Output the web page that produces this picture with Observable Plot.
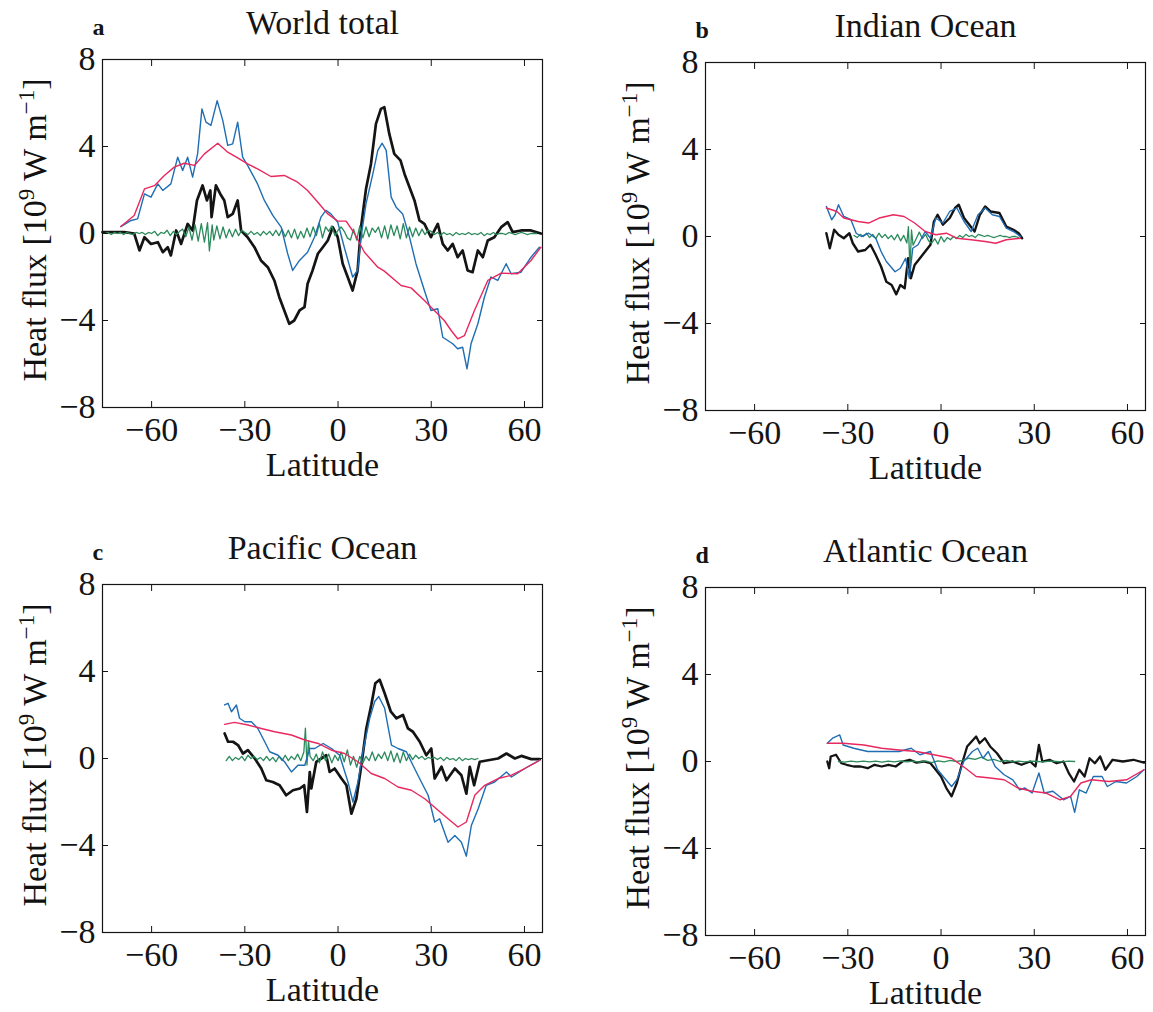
<!DOCTYPE html>
<html><head><meta charset="utf-8">
<script src="https://cdn.jsdelivr.net/npm/d3@7"></script>
<script src="https://cdn.jsdelivr.net/npm/@observablehq/plot@0.6"></script>
<style>
html,body{margin:0;padding:0;background:#fff;overflow:hidden;}
#wrap{position:relative;width:1153px;height:1012px;background:#fff;}
.panel{position:absolute;}
.ylab{position:absolute;white-space:nowrap;font-family:"Liberation Serif","Times New Roman",serif;font-size:34px;line-height:34px;transform-origin:0 0;transform:rotate(-90deg) translate(-50%,-100%);color:#111;}
.ylab sup{font-size:0.68em;vertical-align:0;position:relative;top:-0.52em;line-height:0;}
</style></head><body><div id="wrap"></div>
<script>
// ---------- axes ----------
const xTicks = [-60, -30, 0, 30, 60];
const yTicks = [-8, -4, 0, 4, 8];
const xDomain = [-75.8, 65.8];
const yDomain = [-8, 8];

// ---------- panel texts ----------
const titles = ["World total", "Indian Ocean", "Pacific Ocean", "Atlantic Ocean"];
const letters = ["a", "b", "c", "d"];

// ---------- a: World total ----------
const worldRed = [[-69.9,0.32],[-65.6,0.83],[-62.3,2.05],[-59.1,2.2],[-55.9,2.67],[-52.7,3.05],[-49.5,3.23],[-46.2,3.13],[-43.0,3.66],[-38.7,4.15],[-35.5,3.74],[-32.3,3.48],[-29.1,3.2],[-25.9,2.97],[-21.6,2.62],[-17.3,2.67],[-13.0,2.36],[-9.8,1.98],[-6.5,1.44],[-3.3,0.9],[-0.1,0.57],[2.6,0.57],[5.3,0],[8.5,-0.86],[12.8,-1.55],[14.9,-1.73],[20.3,-2.39],[23.5,-2.5],[27.8,-3.08],[31.0,-3.54],[34.2,-4.0],[36.4,-4.46],[38.5,-4.84],[40.7,-4.69],[43.9,-3.54],[48.2,-2.16],[52.5,-1.82],[57.8,-1.85],[62.1,-1.24],[65.3,-0.63]];
const worldBlue = [[-69.9,0.32],[-66.6,0.6],[-64.5,0.67],[-62.3,1.82],[-60.2,1.67],[-58.0,2.28],[-56.4,1.98],[-53.8,2.28],[-51.6,3.51],[-50.0,2.9],[-48.4,3.51],[-46.8,2.59],[-45.2,3.66],[-43.8,5.73],[-42.5,5.12],[-40.9,4.97],[-38.9,6.11],[-37.1,5.2],[-35.5,4.05],[-33.9,4.12],[-32.3,5.12],[-30.7,3.51],[-29.1,3.13],[-25.9,2.28],[-23.7,1.52],[-21.0,0.83],[-18.3,0.29],[-16.2,-0.93],[-14.6,-1.7],[-12.4,-1.24],[-9.8,-0.86],[-7.6,-0.17],[-5.5,0.75],[-3.9,1.06],[-2.3,0.9],[-0.1,0.52],[2.0,-0.63],[4.7,-2.0],[6.3,-1.7],[7.4,-0.17],[9.0,1.36],[11.2,2.74],[12.8,3.82],[14.2,4.15],[15.5,3.82],[17.1,1.67],[18.7,1.21],[20.8,0.9],[23.0,-0.17],[25.1,-1.4],[27.8,-2.62],[29.9,-3.54],[32.1,-3.46],[33.7,-4.77],[35.3,-4.92],[36.9,-5.07],[38.5,-5.3],[40.1,-5.23],[41.5,-6.22],[42.8,-5.07],[45.0,-4.15],[47.1,-2.93],[49.2,-2.0],[51.4,-2.16],[54.1,-1.39],[55.7,-1.85],[58.9,-1.78],[62.1,-1.09],[64.8,-0.63]];
const worldBlack = [[-75.8,0.06],[-68.8,0.06],[-65.6,0],[-63.9,-0.78],[-62.3,-0.17],[-60.2,-0.48],[-58.0,-0.4],[-56.4,-0.86],[-54.8,-0.63],[-53.8,-1.01],[-52.1,0.14],[-50.5,-0.48],[-48.4,0.44],[-46.8,0.14],[-45.4,1.52],[-43.6,2.21],[-42.2,1.52],[-41.1,1.98],[-40.7,0.75],[-39.3,2.21],[-37.9,1.82],[-36.6,1.52],[-35.5,0.75],[-33.9,0.9],[-32.3,1.52],[-31.2,0.14],[-29.1,-0.17],[-26.9,-0.63],[-24.8,-1.24],[-22.6,-1.55],[-20.5,-2.16],[-18.9,-2.93],[-17.3,-3.54],[-15.7,-4.15],[-14.1,-4.0],[-12.4,-3.54],[-10.8,-3.39],[-9.8,-2.31],[-8.2,-1.7],[-6.5,-0.93],[-4.9,-0.63],[-3.3,-0.32],[-1.7,0.29],[-0.1,-0.17],[1.5,-1.39],[3.1,-2.0],[4.7,-2.62],[6.3,-1.7],[7.4,0.29],[9.0,2.05],[10.6,3.2],[12.2,5.04],[13.8,5.73],[14.9,5.81],[16.5,4.58],[18.1,3.66],[20.1,3.36],[21.4,2.74],[23.0,2.13],[24.6,1.52],[26.2,0.6],[27.8,0.44],[29.9,-0.17],[32.1,0.44],[33.7,-0.48],[35.3,-0.78],[36.9,-0.48],[38.5,-1.09],[40.1,-0.78],[41.7,-1.7],[43.3,-1.78],[45.0,-0.78],[46.6,-1.09],[48.2,-0.32],[50.3,-0.17],[52.5,0.29],[54.6,0.52],[56.2,0.06],[58.9,0.14],[62.1,0.14],[65.3,0]];
const worldGreen = [[-75,0],[-74,0.05],[-73,-0.05],[-72,0.05],[-71,0],[-70,0.05],[-69,-0.05],[-68,0.05],[-67,0],[-66,-0.05],[-65,0.05],[-64,0],[-63,0.05],[-62,-0.05],[-61,0.05],[-60,0],[-59,0.1],[-58,-0.1],[-57,0.05],[-56,0],[-55,0.15],[-54,-0.1],[-53,0.1],[-52,-0.05],[-51,0.1],
[-50,0.2],[-49,-0.15],[-48,0.3],[-47,-0.3],[-46,0.4],[-45,-0.35],[-44,0.45],[-43,-0.4],[-42,0.5],[-41.4,-0.8],[-40.5,0.4],[-40,-0.3],[-39,0.35],[-38,-0.25],[-37,0.3],[-36,-0.2],[-35,0.2],[-34,-0.15],[-33,0.2],[-32,-0.1],[-31,0.15],
[-30,0.05],[-29,-0.05],[-28,0.1],[-27,-0.05],[-26,0.05],[-25,-0.1],[-24,0.1],[-23,-0.05],[-22,0.1],[-21,-0.1],[-20,0.15],[-19,-0.1],[-18,0.2],[-17,-0.15],[-16,0.15],[-15,-0.2],[-14,0.2],[-13,-0.25],[-12,0.1],[-11,-0.2],
[-10,0.25],[-9,-0.15],[-8,0.3],[-7,-0.1],[-6,0.45],[-5,-0.2],[-4,0.3],[-3,0.1],[-2,0.35],[-1,-0.1],[0,0.15],[1,0.3],[2,0.1],[3,-0.2],[4,-0.3],
[5,0.2],[6,-0.3],[7,0.35],[8,-0.2],[9,0.3],[10,-0.15],[11,0.25],[12,0.05],[13,0.3],[14,-0.2],[15,0.35],[16,-0.25],[17,0.4],[18,-0.1],[19,0.35],[20,-0.25],[21,0.45],[22,-0.2],[23,0.3],[24,-0.15],[25,0.25],[26,-0.1],[27,0.2],[28,-0.05],[29,0.15],
[30,0.1],[31,-0.05],[32,0.05],[33,-0.1],[34,0.05],[35,-0.05],[36,0],[37,-0.1],[38,0.05],[39,-0.05],[40,0],[41,-0.05],[42,0.05],[43,-0.05],[44,0],[45,-0.05],[46,0.05],[47,-0.1],[48,0],[49,-0.05],[50,0.05],[51,-0.05],[52,0],[53,0],[54,-0.05],[55,0.05],[56,0],[57,-0.05],[58,0],[59,0.05],[60,0],[61,-0.05],[62,0],[63,0],[64,0]];

// ---------- b: Indian Ocean ----------
const indianRed = [[-36.9,1.31],[-33.5,1.15],[-31.3,0.85],[-26.7,0.69],[-23.3,0.62],[-19.9,0.85],[-15.3,1.0],[-11.9,0.92],[-8.5,0.62],[-5.1,0.23],[-1.7,0.08],[1.7,0.15],[5.1,-0.08],[9.7,-0.15],[14.2,-0.23],[17.6,-0.31],[21.0,-0.15],[25.6,-0.08]];
const indianBlue = [[-36.9,1.38],[-35.2,0.77],[-34.1,1.0],[-33.0,1.46],[-31.3,0.92],[-29.0,0.77],[-27.3,0.15],[-25.6,0],[-23.3,0.15],[-21.0,-0.08],[-19.3,-0.69],[-17.6,-1.15],[-14.8,-1.62],[-13.1,-1.46],[-11.4,-1.0],[-10.2,-1.92],[-9.1,-0.54],[-7.4,-0.38],[-5.1,0.23],[-3.4,-0.08],[-1.7,0.85],[0.6,0.62],[2.8,1.15],[5.1,1.31],[7.4,0.69],[9.7,0.23],[11.9,1.0],[14.2,1.31],[16.5,1.0],[18.8,0.92],[21.0,0.38],[23.3,0.23],[25.6,0]];
const indianBlack = [[-36.9,0.15],[-35.8,-0.54],[-34.4,0.31],[-33.0,0.08],[-31.3,-0.08],[-29.5,0.15],[-28.4,-0.31],[-26.7,-0.69],[-24.4,-0.62],[-22.7,-0.38],[-21.0,-0.85],[-19.3,-1.38],[-17.6,-2.08],[-15.9,-2.23],[-14.4,-2.66],[-13.1,-2.23],[-11.7,-2.38],[-10.6,-1.0],[-9.7,-1.92],[-8.5,-1.31],[-6.8,-1.0],[-5.1,-0.69],[-3.4,-0.38],[-2.3,0.69],[-1.1,1.0],[0.6,0.54],[2.8,0.85],[4.5,1.31],[5.7,1.46],[7.4,0.85],[9.1,0.54],[10.8,0.23],[12.5,1.0],[14.2,1.38],[15.9,1.15],[18.8,1.08],[21.0,0.46],[23.3,0.31],[25.0,0.15],[26.1,-0.08]];
const indianGreen = [[-28,0.05],[-27,-0.05],[-26,0.1],[-25,0],[-24,0.15],[-23,-0.05],[-22,0.1],[-21,-0.1],[-20,0.15],[-19,-0.05],[-18,0.1],[-17,-0.1],[-16,0.05],[-15,-0.15],[-14,0.1],[-13,-0.2],[-12,0.05],[-11,-0.3],[-10.5,0.45],[-10,-1.5],[-9.5,0.3],[-9,-0.4],[-8,-0.1],[-7,0.2],[-6,-0.1],[-5,0.1],[-4,-0.2],[-3,-0.3],[-2,-0.1],[-1,-0.35],[0,0],[1,-0.25],[2,-0.05],[3,-0.15],[4,0],[5,-0.1],[6,0.05],[7,-0.05],[8,0.1],[9,0],[10,0.05],[11,-0.05],[12,0.1],[13,0.05],[14,0],[15,0.05],[16,0],[17,-0.05],[18,0],[19,0.05],[20,0],[21,0],[22,-0.05],[23,0],[24,0],[25,-0.05]];

// ---------- c: Pacific Ocean ----------
const pacificRed = [[-36.5,1.57],[-33.3,1.66],[-29.0,1.54],[-24.7,1.38],[-20.4,1.23],[-15.0,1.08],[-10.7,0.85],[-6.4,0.69],[-2.1,0.38],[2.1,0.23],[6.4,-0.15],[10.7,-0.69],[15.0,-0.92],[19.3,-1.31],[23.6,-1.46],[27.9,-1.85],[32.2,-2.38],[35.4,-2.77],[38.6,-3.15],[41.3,-2.92],[44.0,-1.69],[47.2,-1.23],[51.5,-0.92],[55.8,-0.77],[60.1,-0.46],[64.9,-0.08]];
const pacificBlue = [[-36.5,2.46],[-35.4,2.54],[-34.3,2.15],[-32.7,2.46],[-31.7,1.85],[-30.0,1.69],[-27.9,1.69],[-25.8,1.38],[-23.6,0.77],[-22.0,0.31],[-19.3,0.15],[-17.2,-0.15],[-15.0,-0.62],[-12.9,-0.31],[-10.7,-0.31],[-9.1,0.46],[-7.5,0.46],[-4.8,0.69],[-2.1,0.46],[0.5,0.15],[3.2,-1.08],[4.8,-2.0],[6.4,-1.08],[8.0,0.31],[10.2,1.85],[11.8,2.62],[13.1,2.85],[15.0,2.31],[17.2,0.62],[19.3,0.46],[22.0,0.31],[24.1,-0.31],[26.8,-1.08],[29.0,-1.69],[31.1,-2.92],[32.7,-2.77],[35.4,-3.85],[37.6,-3.54],[39.7,-3.85],[41.3,-4.49],[42.9,-3.08],[45.1,-2.31],[47.7,-1.23],[50.4,-1.08],[54.2,-0.62],[55.8,-0.85],[60.1,-0.46],[64.9,-0.08]];
const pacificBlack = [[-36.5,1.15],[-35.4,0.77],[-33.8,0.77],[-32.2,0.62],[-30.6,0.23],[-29.0,0.38],[-26.8,0],[-24.7,-0.46],[-23.1,-1.0],[-21.0,-1.08],[-18.8,-1.23],[-16.7,-1.69],[-14.5,-1.46],[-12.3,-1.38],[-10.9,-1.23],[-10.0,-2.46],[-9.1,-0.62],[-8.6,-1.38],[-7.0,-0.15],[-5.4,0],[-3.8,0.15],[-2.7,-0.62],[-1.1,-0.46],[1.1,-0.92],[2.7,-1.23],[4.3,-2.54],[5.9,-1.85],[7.5,-0.31],[9.1,1.38],[10.7,2.46],[12.0,3.46],[13.4,3.62],[15.0,3.0],[17.0,2.15],[18.8,1.85],[20.9,2.0],[22.5,1.38],[24.1,1.23],[26.3,0.77],[28.4,0.15],[30.0,0.46],[31.1,-0.92],[33.3,-0.38],[34.9,-1.0],[37.6,-0.46],[39.7,-0.77],[41.3,-1.62],[42.4,-0.38],[43.8,-1.23],[45.6,-0.15],[48.3,-0.08],[51.5,0],[54.2,0.23],[56.9,0],[59.0,0.12],[62.2,-0.03],[64.9,-0.03]];
const pacificGreen = [[-36,-0.1],[-35,0.1],[-34,-0.1],[-33,0.05],[-32,-0.05],[-31,0.1],[-30,-0.1],[-29,0.15],[-28,0],[-27,0.1],[-26,-0.05],[-25,0.05],[-24,-0.1],[-23,0.1],[-22,-0.1],[-21,0.05],[-20,-0.15],[-19,0.1],[-18,-0.1],[-17,0.15],[-16,-0.1],[-15,0.1],[-14,-0.05],[-13,0.2],[-12,-0.1],[-11,0.3],[-10.5,1.4],[-10,-0.3],[-9.5,0.8],[-9,0.1],[-8,-0.1],[-7,0.2],[-6,-0.2],[-5,0.3],[-4,-0.1],[-3,0.2],[-2,-0.2],[-1,0.15],[0,-0.1],[1,0.3],[2,-0.15],[3,0.4],[4,-0.3],[5,0.1],[6,-0.4],[7,0.1],[8,-0.2],[9,0.1],[10,-0.1],[11,0.3],[12,-0.1],[13,0.2],[14,0],[15,0.3],[16,-0.1],[17,0.35],[18,-0.15],[19,0.25],[20,-0.2],[21,0.3],[22,-0.1],[23,0.2],[24,-0.05],[25,0.15],[26,0],[27,0.1],[28,-0.05],[29,0.05],[30,0],[31,0.05],[32,-0.05],[33,0.05],[34,-0.1],[35,0.05],[36,-0.05],[37,0],[38,-0.1],[39,0.05],[40,-0.1],[41,0],[42,-0.05],[43,0],[44,-0.05],[45,0]];

// ---------- d: Atlantic Ocean ----------
const atlanticRed = [[-36.6,0.84],[-31.5,0.84],[-24.8,0.76],[-19.1,0.61],[-13.5,0.53],[-7.9,0.46],[-2.3,0.31],[3.4,0.15],[7.9,-0.31],[11.3,-0.69],[15.8,-0.76],[20.3,-0.84],[24.8,-1.22],[29.3,-1.37],[33.8,-1.45],[38.3,-1.76],[41.7,-1.6],[45.0,-0.99],[48.4,-0.84],[54.0,-0.92],[59.7,-0.84],[65.3,-0.38]];
const atlanticBlue = [[-36.6,0.84],[-34.9,1.07],[-32.6,1.22],[-31.5,0.76],[-28.1,0.61],[-23.6,0.46],[-19.1,0.46],[-13.5,0.46],[-9.6,0.61],[-6.8,0.31],[-3.4,0.46],[-1.1,-0.38],[1.1,-0.76],[3.4,-1.15],[5.1,-0.84],[7.3,0],[10.1,0.46],[11.8,0.61],[13.5,0.15],[15.2,0.46],[17.4,-0.23],[20.3,-0.61],[23.1,-0.84],[25.3,-1.3],[27.0,-1.22],[29.3,-1.45],[31.5,-0.53],[33.2,-1.45],[36.0,-1.37],[39.4,-1.76],[41.7,-1.6],[43.0,-2.34],[44.5,-1.3],[46.7,-1.45],[49.0,-0.69],[51.8,-0.69],[53.5,-1.15],[56.3,-0.92],[59.7,-0.99],[63.0,-0.69],[65.3,-0.38]];
const atlanticBlack = [[-36.6,0],[-36.0,-0.31],[-35.5,0.23],[-33.8,0.31],[-32.1,-0.08],[-30.4,-0.15],[-28.1,-0.23],[-25.9,-0.23],[-23.6,-0.31],[-21.4,-0.15],[-19.1,-0.23],[-16.9,-0.15],[-14.6,-0.23],[-12.4,0],[-10.1,0.08],[-7.9,-0.05],[-5.6,0],[-3.4,-0.08],[-1.7,-0.38],[0,-0.69],[1.7,-1.22],[3.4,-1.6],[5.1,-0.99],[6.8,-0.08],[8.4,0.69],[11.3,1.15],[12.4,0.84],[14.1,1.07],[15.8,0.69],[18.0,0.38],[20.3,-0.08],[23.1,0],[25.9,-0.15],[28.7,0],[30.4,-0.23],[31.5,0.76],[32.6,0],[34.9,0.08],[37.2,-0.08],[39.4,0],[41.1,-0.53],[42.8,-0.92],[44.5,-0.38],[46.2,-0.69],[47.8,0.15],[49.5,-0.08],[51.2,0.23],[52.9,-0.38],[55.2,0.08],[58.5,0],[61.9,0.08],[65.3,-0.05]];
const atlanticGreen = [[-33,0],[-31,-0.03],[-29,0.02],[-27,-0.02],[-25,0.02],[-23,-0.02],[-21,0.02],[-19,-0.03],[-17,0.02],[-15,-0.02],[-13,0.03],[-11,-0.02],[-9,0.02],[-7,-0.03],[-5,0.03],[-3,-0.05],[-1,0.03],[1,-0.02],[3,0.05],[5,0],[7,0.05],[9,0.15],[11,0.1],[13,0.2],[15,0.05],[17,0.1],[19,0],[21,0.05],[23,-0.02],[25,0.02],[27,-0.02],[29,0.02],[31,0],[33,-0.02],[35,0.02],[37,0],[39,-0.02],[41,0.02],[43,0]];

// ---------- styling ----------
const RED = "#e8285e", BLUE = "#1f6db3", GREEN = "#2a8a5c", BLACK = "#141414";
const FONT = "'Liberation Serif','Times New Roman',serif";
const fmt = d => (d < 0 ? "\u2212" + Math.abs(d) : String(d));

const panels = [
  {title: titles[0], letter: letters[0], left: 0, top: 0, red: worldRed, blue: worldBlue, black: worldBlack, green: worldGreen, bw: 2.7},
  {title: titles[1], letter: letters[1], left: 603, top: 3, red: indianRed, blue: indianBlue, black: indianBlack, green: indianGreen, bw: 2.4},
  {title: titles[2], letter: letters[2], left: 0, top: 525, red: pacificRed, blue: pacificBlue, black: pacificBlack, green: pacificGreen, bw: 2.7},
  {title: titles[3], letter: letters[3], left: 603, top: 528, red: atlanticRed, blue: atlanticBlue, black: atlanticBlack, green: atlanticGreen, bw: 2.3}
];

const ML = 102, MT = 59, PW = 440, PH = 348, MR = 8, MB = 76;
const wrap = document.getElementById("wrap");
const X = d => d[0], Y = d => d[1];

for (const p of panels) {
  const chart = Plot.plot({
    width: ML + PW + MR,
    height: MT + PH + MB,
    marginLeft: ML, marginRight: MR, marginTop: MT, marginBottom: MB,
    x: {domain: xDomain},
    y: {domain: yDomain},
    style: {fontFamily: FONT, fontSize: "34px", background: "white", color: BLACK, overflow: "visible"},
    marks: [
      Plot.line(p.black, {x: X, y: Y, stroke: BLACK, strokeWidth: p.bw, strokeLinejoin: "round"}),
      Plot.line(p.green, {x: X, y: Y, stroke: GREEN, strokeWidth: 1.3}),
      Plot.line(p.blue, {x: X, y: Y, stroke: BLUE, strokeWidth: 1.4}),
      Plot.line(p.red, {x: X, y: Y, stroke: RED, strokeWidth: 1.4}),
      Plot.frame({stroke: BLACK, strokeWidth: 1.2}),
      Plot.axisX({anchor: "bottom", ticks: xTicks, tickSize: 6, dy: -6, tickFormat: () => "", label: null}),
      Plot.axisX({anchor: "top", ticks: xTicks, tickSize: 6, dy: 6, tickFormat: () => "", label: null}),
      Plot.axisY({anchor: "left", ticks: yTicks, tickSize: 6, dx: 6, tickFormat: () => "", label: null}),
      Plot.axisY({anchor: "right", ticks: yTicks, tickSize: 6, dx: -6, tickFormat: () => "", label: null}),
      Plot.axisX({anchor: "bottom", ticks: xTicks, tickSize: 0, tickPadding: 9, tickFormat: fmt, label: null, fontSize: 34}),
      Plot.axisY({anchor: "left", ticks: yTicks, tickSize: 0, tickPadding: 7, tickFormat: fmt, label: null, fontSize: 34}),
      Plot.text([p.title], {text: d => d, frameAnchor: "top", lineAnchor: "bottom", dy: -26, fontSize: 34}),
      Plot.text([p.letter], {text: d => d, frameAnchor: "top-left", textAnchor: "start", lineAnchor: "bottom", dx: -10, dy: -25, fontSize: 24, fontWeight: "bold"}),
      Plot.text(["Latitude"], {text: d => d, frameAnchor: "bottom", lineAnchor: "bottom", dy: 68, fontSize: 34})
    ]
  });
  const holder = document.createElement("div");
  holder.className = "panel";
  holder.style.left = p.left + "px";
  holder.style.top = p.top + "px";
  holder.appendChild(chart);
  wrap.appendChild(holder);

  const yl = document.createElement("div");
  yl.className = "ylab";
  yl.style.left = (p.left + 52) + "px";
  yl.style.top = (p.top + MT + PH / 2 - 3) + "px";
  yl.innerHTML = "Heat flux [10<sup>9</sup> W m<sup>\u22121</sup>]";
  wrap.appendChild(yl);
}
</script></body></html>
